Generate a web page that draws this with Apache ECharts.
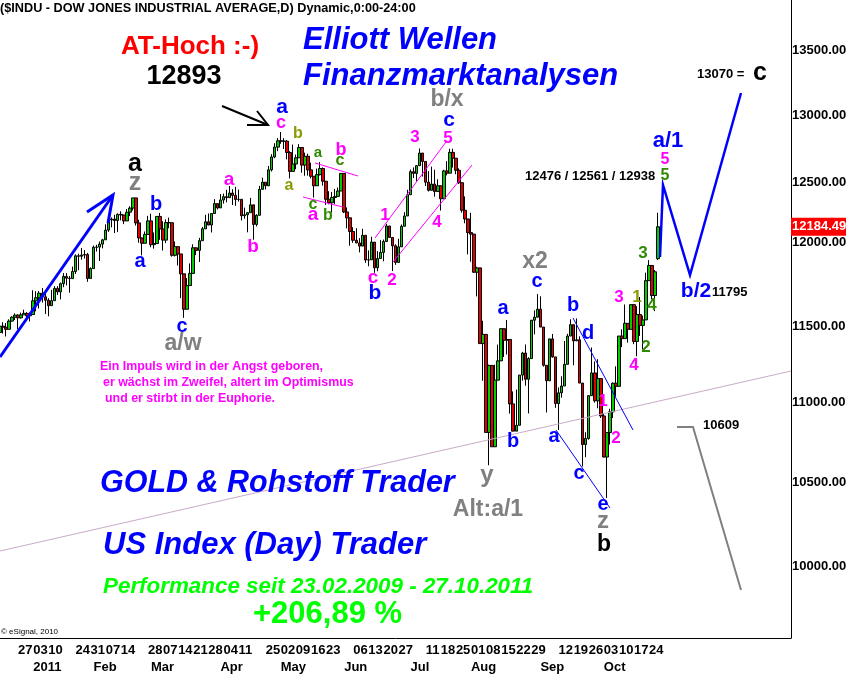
<!DOCTYPE html>
<html><head><meta charset="utf-8">
<script src="https://cdn.jsdelivr.net/npm/echarts@6/dist/echarts.min.js"></script>
<style>html,body{margin:0;padding:0;background:#fff}#c{width:846px;height:674px}</style>
</head><body><div id="c"></div>
<script>
// ---------- axis domain ----------
const startDate = '2010-12-16';
const holidays = ['2010-12-24','2011-01-17','2011-02-21','2011-04-22','2011-05-30','2011-07-04','2011-09-05','2011-11-24','2011-12-26'];
const axisDays = 263;
const monthNames = ['2011','Feb','Mar','Apr','May','Jun','Jul','Aug','Sep','Oct','Nov','Dec'];
const yTicks = [10000,10500,11000,11500,12000,12500,13000,13500];
const yMin = 9589, yMax = 13905;
const lastPrice = 12184.49;

// ---------- daily OHLC (Dec 16 2010 .. Oct 27 2011) ----------
const opens = [
 11457,11499,11492,11478,11533,11559,11573,11555,11575,11585,11569,
 11577,11670,11691,11722,11697,11674,11637,11671,11755,11731,11787,11837,11825,11822,11871,11980,11977,11985,11989,11823,
 11891,12040,12041,12062,12092,12161,12233,12239,12229,12273,12268,12226,12288,12318,12391,12212,12105,12068,12130,
 12226,12058,12066,12258,12169,12090,12214,12213,11984,12044,11993,11855,11613,11774,11858,12036,12018,12086,12170,12220,12197,12279,12350,
 12319,12376,12400,12393,12426,12409,12380,12381,12263,12270,12285,12341,12201,12266,12453,12505,12479,12595,12690,12763,
 12810,12807,12807,12723,12584,12638,12684,12760,12630,12695,12595,12548,12479,12560,12605,12512,12381,12356,12394,12402,12441,
 12569,12290,12248,12151,12089,12070,12048,12124,11951,11952,12076,11897,11961,12004,12080,12190,12109,12050,11934,12043,12188,12261,
 12414,12582,12569,12626,12719,12657,12505,12446,12491,12437,12479,12385,12587,12571,12724,12681,12592,12501,12302,12240,
 12143,12132,11866,11896,11383,11444,10809,11239,10719,11143,11269,11482,11405,11410,10990,10817,10854,11176,11320,11149,11284,11539,11559,
 11613,11493,11240,11139,11414,11295,10992,11061,11105,11246,11433,11509,11401,11408,11124,10733,10771,11043,11190,11010,11153,
 10913,10655,10808,10939,11123,11103,11433,11416,11518,11478,11644,11397,11577,11504,11541,11808,11913,11706,11960
];
const highs = [
 11510,11525,11520,11545,11565,11585,11580,11590,11610,11593,11590,
 11742,11736,11736,11757,11736,11688,11745,11770,11770,11795,11860,11860,11840,11905,11990,11995,12035,12020,12000,11900,
 12052,12057,12080,12099,12202,12240,12251,12270,12280,12295,12270,12311,12331,12391,12391,12234,12108,12151,12262,
 12278,12144,12258,12283,12224,12237,12250,12213,12081,12044,11993,11855,11825,11927,12061,12038,12106,12183,12270,12279,12279,12382,12353,
 12419,12422,12450,12477,12454,12471,12451,12381,12321,12285,12391,12341,12274,12478,12538,12505,12624,12711,12792,12830,
 12876,12830,12816,12733,12782,12708,12785,12763,12722,12714,12648,12548,12604,12652,12613,12512,12439,12434,12456,12466,12571,
 12569,12323,12249,12181,12174,12104,12170,12124,12018,12114,12076,12013,12090,12094,12205,12190,12109,12061,12100,12201,12289,12450,
 12598,12613,12631,12753,12719,12657,12586,12619,12596,12526,12479,12596,12659,12751,12751,12681,12606,12501,12402,12240,
 12284,12135,11904,11896,11535,11444,11244,11239,11244,11376,11482,11482,11540,11410,11070,11082,11176,11328,11377,11293,11540,11605,11716,
 11701,11493,11240,11414,11447,11295,11096,11168,11400,11448,11545,11509,11551,11431,11124,10810,11044,11357,11265,11280,11153,
 10929,10811,10959,11128,11233,11433,11478,11645,11518,11644,11644,11634,11696,11570,11863,11950,11913,11881,12284
];
const lows = [
 11440,11450,11430,11478,11530,11540,11480,11550,11575,11550,11530,
 11577,11599,11618,11658,11581,11565,11637,11671,11710,11680,11763,11775,11725,11822,11854,11880,11953,11961,11800,11820,
 11891,12010,11944,12032,12092,12148,12180,12140,12148,12230,12203,12226,12260,12300,12193,12072,11983,12068,12130,
 12040,12030,12066,12092,12017,12069,12174,11974,11975,11913,11688,11555,11613,11774,11858,11985,11937,12086,12170,12195,12144,12279,12308,
 12319,12350,12359,12393,12340,12334,12365,12229,12241,12145,12285,12093,12187,12266,12453,12452,12479,12583,12680,12733,
 12788,12749,12672,12532,12584,12600,12684,12574,12552,12553,12533,12393,12479,12554,12480,12341,12345,12286,12348,12402,12441,
 12282,12173,12051,12071,12070,12004,12048,11931,11907,11952,11862,11873,11961,11942,12080,12108,11874,11917,11934,12043,12188,12261,
 12414,12535,12511,12626,12546,12477,12437,12446,12400,12437,12300,12385,12555,12571,12612,12563,12492,12285,12209,11990,
 11939,11862,11700,11383,11139,10809,10604,10719,10719,11143,11269,11294,11311,10928,10817,10817,10854,11139,11107,10929,11284,11444,11559,
 11493,11231,10935,11139,11290,10965,10824,11030,11105,11246,11433,11240,11401,11124,10597,10654,10763,11043,10998,10962,10900,
 10653,10404,10733,10900,11037,11103,11360,11416,11389,11478,11379,11299,11434,11345,11541,11808,11680,11600,11950
];
const closes = [
 11499,11492,11478,11533,11559,11573,11555,11575,11585,11569,11577,
 11670,11691,11722,11697,11674,11637,11671,11755,11731,11787,11837,11825,11822,11871,11980,11977,11985,11989,11823,11891,
 12040,12041,12062,12092,12161,12233,12239,12229,12273,12268,12226,12288,12318,12391,12212,12105,12068,12130,12226,
 12058,12066,12258,12169,12090,12214,12213,11984,12044,11993,11855,11613,11774,11858,12036,12018,12086,12170,12220,12197,12279,12350,12319,
 12376,12400,12393,12426,12409,12380,12381,12263,12270,12285,12341,12201,12266,12453,12505,12479,12595,12690,12763,12810,
 12807,12807,12723,12584,12638,12684,12760,12630,12695,12595,12548,12479,12560,12605,12512,12381,12356,12394,12402,12441,12569,
 12290,12248,12151,12089,12070,12048,12124,11951,11952,12076,11897,11961,12004,12080,12190,12109,12050,11934,12043,12188,12261,12414,
 12582,12569,12626,12719,12657,12505,12446,12491,12437,12479,12385,12587,12571,12724,12681,12592,12501,12302,12240,12143,
 12132,11866,11896,11383,11444,10809,11239,10719,11143,11269,11482,11405,11410,10990,10817,10854,11176,11320,11149,11284,11539,11559,11613,
 11493,11240,11139,11414,11295,10992,11061,11105,11246,11433,11509,11401,11408,11124,10733,10771,11043,11190,11010,11153,10913,
 10655,10808,10939,11123,11103,11433,11416,11518,11478,11644,11397,11577,11504,11541,11808,11913,11706,11869,12184.49
];

// ---------- annotations (text, x, y, color, size, style, align) ----------
const FF = '"Liberation Sans", Arial, sans-serif';
const BLUE='#0000ff', MAG='#ff00ff', GREY='#808080', GRN='#2f8a00', OLV='#8a9a00', BLK='#000000';
const notes = [
 ['($INDU - DOW JONES INDUSTRIAL AVERAGE,D) Dynamic,0:00-24:00', 0, 8, BLK, 12.7, 'b', 'left'],
 ['AT-Hoch :-)', 190, 47, '#ff0000', 26, 'b', 'center'],
 ['12893', 184, 77, BLK, 27, 'b', 'center'],
 ['Elliott Wellen', 303, 40, BLUE, 31, 'bi', 'left'],
 ['Finanzmarktanalysen', 303, 76, BLUE, 31, 'bi', 'left'],
 ['b/x', 447, 100, GREY, 23, 'b', 'center'],
 ['13070 = ', 697, 74, BLK, 13, 'b', 'left'],
 ['c', 760, 73, BLK, 25, 'b', 'center'],
 ['a/1', 668, 141, BLUE, 22, 'b', 'center'],
 ['5', 665, 160, MAG, 16, 'b', 'center'],
 ['5', 665, 176, GRN, 16, 'b', 'center'],
 ['12476 / 12561 / 12938', 525, 176, BLK, 13, 'b', 'left'],
 ['b/2', 696, 291, BLUE, 21, 'b', 'center'],
 ['11795', 712, 292, BLK, 13, 'b', 'left'],
 ['10609', 703, 425, BLK, 13, 'b', 'left'],
 ['x2', 535, 262, GREY, 23, 'b', 'center'],
 ['c', 537, 281, BLUE, 20, 'b', 'center'],
 ['a', 503, 308, BLUE, 20, 'b', 'center'],
 ['b', 573, 305, BLUE, 20, 'b', 'center'],
 ['d', 588, 333, BLUE, 20, 'b', 'center'],
 ['3', 619, 297, MAG, 17, 'b', 'center'],
 ['1', 637, 297, OLV, 17, 'b', 'center'],
 ['4', 652, 305, GRN, 17, 'b', 'center'],
 ['2', 646, 347, GRN, 17, 'b', 'center'],
 ['4', 634, 365, MAG, 17, 'b', 'center'],
 ['3', 643, 253, GRN, 17, 'b', 'center'],
 ['1', 603, 401, MAG, 17, 'b', 'center'],
 ['2', 616, 438, MAG, 17, 'b', 'center'],
 ['b', 513, 441, BLUE, 20, 'b', 'center'],
 ['a', 554, 436, BLUE, 20, 'b', 'center'],
 ['c', 579, 473, BLUE, 20, 'b', 'center'],
 ['e', 603, 504, BLUE, 20, 'b', 'center'],
 ['z', 603, 521, GREY, 24, 'b', 'center'],
 ['b', 604, 545, BLK, 23, 'b', 'center'],
 ['y', 487, 475, GREY, 24, 'b', 'center'],
 ['Alt:a/1', 488, 510, GREY, 23, 'b', 'center'],
 ['GOLD & Rohstoff Trader', 100, 484, BLUE, 30.5, 'bi', 'left'],
 ['US Index (Day) Trader', 103, 545, BLUE, 31, 'bi', 'left'],
 ['Performance seit 23.02.2009 - 27.10.2011', 103, 587, '#00ff00', 22.4, 'bi', 'left'],
 ['+206,89 %', 253, 614, '#00ff00', 31, 'b', 'left'],
 ['Ein Impuls wird in der Angst geboren,', 100, 367, MAG, 12.4, 'b', 'left'],
 ['er wächst im Zweifel, altert im Optimismus', 103, 383, MAG, 12.4, 'b', 'left'],
 ['und er stirbt in der Euphorie.', 105, 399, MAG, 12.4, 'b', 'left'],
 ['\u00a9 eSignal, 2010', 1, 632, BLK, 8, '', 'left'],
 ['a', 135, 164, BLK, 25, 'b', 'center'],
 ['z', 135, 183, GREY, 25, 'b', 'center'],
 ['b', 156, 204, BLUE, 20, 'b', 'center'],
 ['a', 140, 261, BLUE, 20, 'b', 'center'],
 ['c', 182, 326, BLUE, 20, 'b', 'center'],
 ['a/w', 183, 344, GREY, 23, 'b', 'center'],
 ['a', 229, 180, MAG, 19, 'b', 'center'],
 ['b', 253, 247, MAG, 19, 'b', 'center'],
 ['a', 282, 107, BLUE, 21, 'b', 'center'],
 ['c', 281, 123, MAG, 18, 'b', 'center'],
 ['b', 298, 134, OLV, 16, 'b', 'center'],
 ['a', 289, 186, OLV, 16, 'b', 'center'],
 ['a', 318, 153, GRN, 15, 'b', 'center'],
 ['b', 341, 150, MAG, 18, 'b', 'center'],
 ['c', 340, 161, GRN, 16, 'b', 'center'],
 ['c', 313, 205, GRN, 16, 'b', 'center'],
 ['a', 313, 215, MAG, 19, 'b', 'center'],
 ['b', 328, 216, GRN, 16, 'b', 'center'],
 ['c', 373, 278, MAG, 19, 'b', 'center'],
 ['b', 375, 293, BLUE, 21, 'b', 'center'],
 ['1', 385, 215, MAG, 17, 'b', 'center'],
 ['2', 392, 280, MAG, 17, 'b', 'center'],
 ['3', 415, 137, MAG, 17, 'b', 'center'],
 ['c', 449, 120, BLUE, 21, 'b', 'center'],
 ['5', 448, 138, MAG, 17, 'b', 'center'],
 ['4', 437, 222, MAG, 17, 'b', 'center']
];
// ---------- drawn lines (points, color, width) ----------
const strokes = [
 [[[0,551],[791,371]], '#c8aac8', 1],
 [[[0,357],[113,195]], BLUE, 3],
 [[[87,212],[113,195],[108,223]], BLUE, 3],
 [[[222,106],[268,125]], BLK, 2],
 [[[247,125],[268,125],[257,111]], BLK, 2],
 [[[315,163],[358,176]], MAG, 1],
 [[[303,197],[343,207]], MAG, 1],
 [[[375,238],[446,142]], MAG, 1],
 [[[393,262],[472,165]], MAG, 1],
 [[[573,318],[633,430]], BLUE, 1],
 [[[556,430],[610,508]], BLUE, 1],
 [[[660,257],[663,185],[690,275],[741,93]], BLUE, 2.5],
 [[[677,427],[693,427],[741,590]], GREY, 2]
];

// ---------- build ----------
function buildDays(){
  const out=[]; const d=new Date(startDate+'T00:00:00Z');
  while(out.length<axisDays){
    const dow=d.getUTCDay(); const s=d.toISOString().slice(0,10);
    if(dow!==0 && dow!==6 && holidays.indexOf(s)<0) out.push(s);
    d.setUTCDate(d.getUTCDate()+1);
  }
  return out;
}
const days = buildDays();
const nData = closes.length;
function weekKey(s){const d=new Date(s+'T00:00:00Z');d.setUTCDate(d.getUTCDate()-((d.getUTCDay()+6)%7));return d.toISOString().slice(0,10);}
const weekStarts = days.map((s,i)=> i>0 && weekKey(s)!==weekKey(days[i-1]));
const showDay = days.map((s,i)=>{
  if(!weekStarts[i] || i>=nData) return false;
  let j=i+1; while(j<nData && !weekStarts[j]) j++;
  if(j>=nData) return true;
  return j-i>=5;
});
const showMonth = days.map((s,i)=> i>0 && i<nData && s.slice(5,7)!==days[i-1].slice(5,7));

const L = Math.log10;
const candleData = closes.map((c,i)=>[L(opens[i]), L(c), L(lows[i]), L(highs[i])]);

const chart = echarts.init(document.getElementById('c'), null, {renderer:'canvas'});
const lab = {fontFamily:FF, fontWeight:'bold', fontSize:13, color:'#000'};
chart.setOption({
  animation:false,
  backgroundColor:'#fff',
  grid:{left:0, right:55, top:0, bottom:36, containLabel:false, outerBoundsMode:'none'},
  xAxis:[
    {type:'category', data:days, boundaryGap:false, position:'bottom',
     axisLine:{show:true, lineStyle:{color:'#000', width:1}}, axisTick:{show:false}, splitLine:{show:false},
     axisLabel:Object.assign({interval:(i)=>showDay[i], formatter:(v)=>v.slice(8,10), align:'left', margin:6, hideOverlap:false}, lab)},
    {type:'category', data:days, boundaryGap:false, position:'bottom', offset:0,
     axisLine:{show:false}, axisTick:{show:false}, splitLine:{show:false},
     axisLabel:Object.assign({interval:(i)=>showMonth[i], formatter:(v)=>monthNames[parseInt(v.slice(5,7),10)-1], align:'left', margin:23, hideOverlap:false}, lab)}
  ],
  yAxis:{type:'value', position:'right', min:L(yMin), max:L(yMax),
    axisLine:{show:true, lineStyle:{color:'#000', width:1}}, axisTick:{show:false}, splitLine:{show:false},
    axisLabel:Object.assign({customValues:yTicks.map(L), margin:1, align:'left',
      formatter:(v)=>{const p=Math.round(Math.pow(10,v)); const s=p.toFixed(2); return p===12000 ? '{up|'+s+'}' : s;},
      rich:{up:{padding:[0,0,21,0], fontFamily:FF, fontWeight:'bold', fontSize:13, color:'#000'}}}, lab)},
  series:[{type:'candlestick', xAxisIndex:0, data:candleData, barWidth:3,
    itemStyle:{color:'#00cc00', color0:'#e00000', borderColor:'#000', borderColor0:'#000', borderWidth:1}}]
});

const py = chart.convertToPixel({yAxisIndex:0}, L(lastPrice));
const g = [];
strokes.forEach(s=>g.push({type:'polyline', shape:{points:s[0]}, style:{stroke:s[1], lineWidth:s[2], fill:null}, z:50}));
notes.forEach(n=>{
  const st = n[5]==='bi' ? 'italic bold ' : (n[5]==='b' ? 'bold ' : '');
  g.push({type:'text', x:n[1], y:n[2], z:60, style:{text:n[0], fill:n[3], font:st+n[4]+'px '+FF,
    align:n[6], verticalAlign:'middle', textAlign:n[6], textVerticalAlign:'middle'}});
});
g.push({type:'rect', shape:{x:791, y:py-9, width:55, height:18}, style:{fill:'#ff0000'}, z:70});
g.push({type:'text', x:792, y:py, z:71, style:{text:lastPrice.toFixed(2), fill:'#fff', font:'bold 13px '+FF, align:'left', verticalAlign:'middle', textAlign:'left', textVerticalAlign:'middle'}});
chart.setOption({graphic:{elements:g}});
</script></body></html>
